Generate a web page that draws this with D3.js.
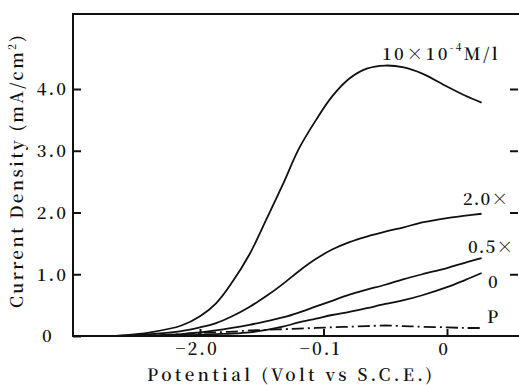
<!DOCTYPE html>
<html>
<head>
<meta charset="utf-8">
<script src="https://cdn.jsdelivr.net/npm/d3@7"></script>
<style>
  body { margin: 0; background: #fff; }
</style>
</head>
<body>
<div class="chartDiv"></div>
<script>
// potential (V vs SCE), shared by every curve
const potential = [-0.268, -0.24, -0.215, -0.2, -0.187, -0.174, -0.16, -0.146, -0.133, -0.12,
    -0.106, -0.093, -0.079, -0.065, -0.05, -0.035, -0.02, 0, 0.015, 0.028];

// current density (mA/cm2) per inhibitor concentration
const conc10 = [0, 0.06, 0.17, 0.32, 0.53, 0.87, 1.32, 1.9, 2.45, 3.03,
    3.5, 3.88, 4.17, 4.33, 4.38, 4.35, 4.25, 4.04, 3.89, 3.78];
const conc2 = [0, 0.03, 0.08, 0.14, 0.21, 0.32, 0.47, 0.65, 0.84, 1.05,
    1.25, 1.4, 1.52, 1.61, 1.69, 1.76, 1.84, 1.91, 1.95, 1.98];
const conc05 = [0, 0.01, 0.03, 0.06, 0.09, 0.13, 0.18, 0.24, 0.3, 0.38,
    0.48, 0.57, 0.67, 0.75, 0.83, 0.92, 1.0, 1.1, 1.19, 1.26];
const conc0 = [0, 0, 0.01, 0.02, 0.03, 0.04, 0.06, 0.1, 0.15, 0.22,
    0.28, 0.34, 0.39, 0.45, 0.52, 0.58, 0.66, 0.79, 0.91, 1.02];
const concP = [0, 0.01, 0.03, 0.05, 0.06, 0.07, 0.09, 0.1, 0.11, 0.12,
    0.13, 0.14, 0.15, 0.16, 0.17, 0.16, 0.15, 0.14, 0.13, 0.13];

const xTicks = [-0.2, -0.1, 0];
const xTickLabels = ['\u22122.0', '\u22120.1', '0'];
const yTicks = [0, 1, 2, 3, 4];
const yTickLabels = ['0', '1.0', '2.0', '3.0', '4.0'];

const chartWidth = 519;
const chartHeight = 385;
const frameLeft = 73, frameRight = 518, frameTop = 14, frameBottom = 336;
const serif = '"Noto Serif CJK JP", "Liberation Serif", serif';

const svg = d3.select('.chartDiv')
    .append('svg')
    .attr('width', chartWidth)
    .attr('height', chartHeight)
    .attr('font-family', serif);

const x = d3.scaleLinear().domain([-0.2, 0]).range([200, 447]);
const y = d3.scaleLinear().domain([0, 4]).range([frameBottom, 89]);

// stretch a text to a target width with letter-spacing
function fitWidth(sel, target) {
    const node = sel.node();
    const n = node.textContent.length;
    const w = node.getComputedTextLength();
    sel.style('letter-spacing', ((target - w) / n) + 'px');
}

// frame
svg.append('rect')
    .attr('x', frameLeft)
    .attr('y', frameTop)
    .attr('width', frameRight - frameLeft + 4)
    .attr('height', frameBottom - frameTop)
    .attr('fill', 'none')
    .attr('stroke', '#111')
    .attr('stroke-width', 2);

const tickFont = 17;

// left axis, ticks inward
const yAxis = svg.append('g')
    .attr('transform', `translate(${frameLeft},0)`)
    .call(d3.axisLeft(y).tickValues(yTicks)
        .tickFormat((d, i) => yTickLabels[i])
        .tickSizeInner(-8).tickSizeOuter(0).tickPadding(5));
yAxis.attr('font-family', serif);
yAxis.select('.domain').remove();
yAxis.selectAll('line').attr('stroke', '#111').attr('stroke-width', 2);
yAxis.selectAll('text')
    .attr('fill', '#111')
    .attr('font-size', tickFont)
    .attr('font-weight', 600)
    .style('letter-spacing', '2px')
    .attr('dy', '0.35em');
yAxis.selectAll('.tick').filter(d => d === 0).select('text')
    .attr('text-anchor', 'start')
    .attr('x', -31);

// right side ticks
const yAxisR = svg.append('g')
    .attr('transform', `translate(${frameRight},0)`)
    .call(d3.axisRight(y).tickValues(yTicks.slice(1))
        .tickFormat('').tickSizeInner(-8).tickSizeOuter(0));
yAxisR.select('.domain').remove();
yAxisR.selectAll('line').attr('stroke', '#111').attr('stroke-width', 2);

// bottom axis, ticks inward
const xAxis = svg.append('g')
    .attr('transform', `translate(0,${frameBottom})`)
    .call(d3.axisBottom(x).tickValues(xTicks)
        .tickFormat((d, i) => xTickLabels[i])
        .tickSizeInner(-7).tickSizeOuter(0).tickPadding(5));
xAxis.attr('font-family', serif);
xAxis.select('.domain').remove();
xAxis.selectAll('line').attr('stroke', '#111').attr('stroke-width', 2);
xAxis.selectAll('text')
    .attr('fill', '#111')
    .attr('font-size', tickFont)
    .attr('font-weight', 600)
    .style('letter-spacing', '2px')
    .attr('dx', '-0.2em')
    .attr('dy', '0.85em');

// axis titles
svg.append('text')
    .attr('x', 147)
    .attr('y', 381)
    .attr('textLength', 285)
    .attr('lengthAdjust', 'spacing')
    .attr('font-size', 17)
    .attr('font-weight', 600)
    .attr('fill', '#111')
    .text('Potential (Volt vs S.C.E.)');

const yTitle = svg.append('text')
    .attr('transform', 'translate(23,308) rotate(-90)')
    .attr('font-size', 17)
    .attr('font-weight', 600)
    .attr('fill', '#111');
yTitle.append('tspan').text('Current Density (mA/cm');
yTitle.append('tspan').attr('dy', -7).attr('font-size', 10).text('2');
yTitle.append('tspan').attr('dy', 7).text(')');
fitWidth(yTitle, 275);

// curves
const series = [
    {name: '10', values: conc10, dash: null},
    {name: '2.0', values: conc2, dash: null},
    {name: '0.5', values: conc05, dash: null},
    {name: '0', values: conc0, dash: null},
    {name: 'P', values: concP, dash: '12,4,2,4'}
];

const line = d3.line()
    .x(d => x(d[0]))
    .y(d => y(d[1]))
    .curve(d3.curveCatmullRom);

svg.selectAll('.curve')
    .data(series)
    .enter()
    .append('path')
    .attr('class', 'curve')
    .attr('d', d => line(potential.map((p, i) => [p, d.values[i]])))
    .attr('fill', 'none')
    .attr('stroke', '#111')
    .attr('stroke-width', 1.8)
    .attr('stroke-dasharray', d => d.dash);

// curve labels
const lab = svg.append('g')
    .attr('font-size', 17)
    .attr('font-weight', 600)
    .attr('fill', '#111');

const l10 = lab.append('text').attr('x', 382).attr('y', 60);
l10.append('tspan').text('10\u00d710');
l10.append('tspan').attr('dy', -9).attr('font-size', 10).text('-4');
l10.append('tspan').attr('dy', 9).text('M/l');
fitWidth(l10, 118);

lab.append('text').attr('x', 463).attr('y', 205).style('letter-spacing', '1px').text('2.0\u00d7');
lab.append('text').attr('x', 468).attr('y', 253).style('letter-spacing', '1px').text('0.5\u00d7');
lab.append('text').attr('x', 488).attr('y', 288).text('0');
lab.append('text').attr('x', 487).attr('y', 323).text('P');
</script>
</body>
</html>
